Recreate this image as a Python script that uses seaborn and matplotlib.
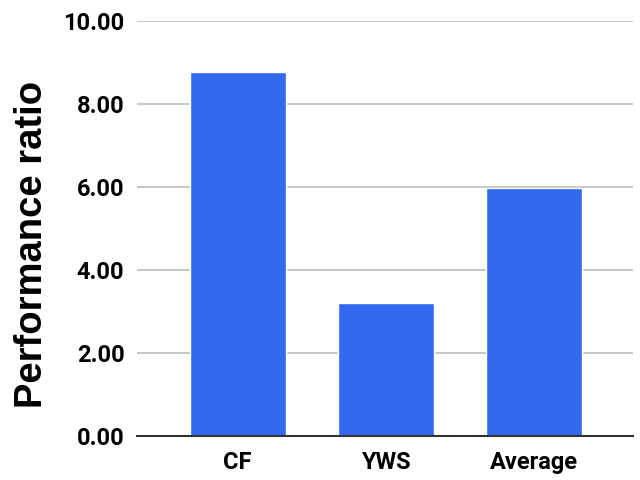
import matplotlib
matplotlib.use("Agg")
import matplotlib.pyplot as plt
import seaborn as sns
import pandas as pd

categories = ["CF", "YWS", "Average"]
values = [8.77, 3.20, 5.98]
yticks = [0, 2, 4, 6, 8, 10]

sns.set_theme(style="white")
plt.rcParams['font.family'] = ['Roboto', 'DejaVu Sans']
plt.rcParams['text.color'] = 'black'
plt.rcParams['xtick.color'] = 'black'
plt.rcParams['ytick.color'] = 'black'

df = pd.DataFrame({"cat": categories, "val": values})

fig = plt.figure(figsize=(6.4, 4.8), dpi=100)
ax = fig.add_axes([137/640, 1-436/480, (633-137)/640, (436-21)/480])

sns.barplot(data=df, x="cat", y="val", color="#3369EE", saturation=1,
            width=0.65, ax=ax, zorder=3)

ax.set_xlim(-0.68, 2.67)
ax.set_ylim(0, 10)
ax.set_yticks(yticks)
ax.set_yticklabels([f"{v:.2f}" for v in yticks], fontsize=17, fontweight="bold", color="black")
ax.set_xticks(range(len(categories)))
ax.set_xticklabels(categories, fontsize=17, fontweight="bold", color="black")
ax.tick_params(axis="y", length=0, pad=9)
ax.tick_params(axis="x", length=0, pad=11)
ax.set_xlabel("")
ax.set_ylabel("")
ax.yaxis.grid(True, color="#bdbdbd", linewidth=1.2, zorder=0)
ax.set_axisbelow(True)
for s in ["top", "right", "left"]:
    ax.spines[s].set_visible(False)
ax.spines["bottom"].set_color("#333333")
ax.spines["bottom"].set_linewidth(1.5)
ax.spines["bottom"].set_zorder(4)

fig.text(32/640, 1-244/480, "Performance ratio", rotation=90, ha="center", va="center",
         fontsize=27.5, fontweight="bold", color="black",
         family=["Liberation Sans", "DejaVu Sans"])

fig.savefig("out.png", dpi=100)
